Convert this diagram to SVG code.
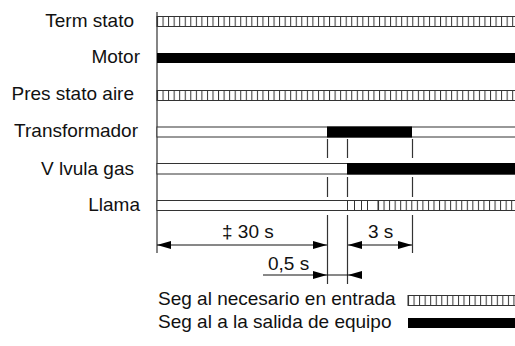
<svg xmlns="http://www.w3.org/2000/svg" width="515" height="346" viewBox="0 0 515 346">
<style>
text{font-family:"Liberation Sans",Arial,sans-serif;font-size:19px;fill:#111}
.lbl{text-anchor:end}
.open{fill:#fff;stroke:#333;stroke-width:1}
.hat{stroke:#333;stroke-width:1}
.on{fill:#000}
.ln{stroke:#333;stroke-width:1.2;fill:none}
.dim{stroke:#111;stroke-width:1;fill:none}
</style>
<defs>
<pattern id="hatch" patternUnits="userSpaceOnUse" x="157" y="0" width="5.55" height="20">
<rect x="0" y="0" width="5.55" height="20" fill="#fff"/>
<line x1="0.5" y1="0" x2="0.5" y2="20" stroke="#333" stroke-width="1"/>
</pattern>
<pattern id="hatch2" patternUnits="userSpaceOnUse" x="378" y="0" width="5.55" height="20">
<rect x="0" y="0" width="5.55" height="20" fill="#fff"/>
<line x1="0.5" y1="0" x2="0.5" y2="20" stroke="#333" stroke-width="1"/>
</pattern>
<pattern id="hatch3" patternUnits="userSpaceOnUse" x="408" y="0" width="5.55" height="20">
<rect x="0" y="0" width="5.55" height="20" fill="#fff"/>
<line x1="0.5" y1="0" x2="0.5" y2="20" stroke="#333" stroke-width="1"/>
</pattern>
<marker id="ah" viewBox="0 0 14 8" refX="14" refY="4" markerWidth="14" markerHeight="8" markerUnits="userSpaceOnUse" orient="auto-start-reverse">
<path d="M0,0 L14,4 L0,8 Z" fill="#000"/>
</marker>
</defs>

<g id="axis">
<line class="ln" x1="157" y1="12" x2="157" y2="253"/>
</g>

<g id="termostato">
<text class="lbl" x="134" y="27">Term stato</text>
<rect x="157" y="16.5" width="360" height="10" fill="url(#hatch)" stroke="#333" stroke-width="1"/>
</g>

<g id="motor">
<text class="lbl" x="140" y="63">Motor</text>
<rect class="on" x="157" y="53" width="358" height="10"/>
</g>

<g id="presostato">
<text class="lbl" x="134" y="100">Pres stato aire</text>
<rect x="157" y="90.5" width="360" height="10" fill="url(#hatch)" stroke="#333" stroke-width="1"/>
</g>

<g id="transformador">
<text class="lbl" x="138" y="137">Transformador</text>
<rect class="open" x="157" y="127" width="360" height="10"/>
<rect class="on" x="327" y="126.5" width="85" height="11"/>
</g>

<g id="valvula">
<text class="lbl" x="134" y="175">V lvula gas</text>
<rect class="open" x="157" y="163.5" width="360" height="10.5"/>
<rect class="on" x="347" y="163" width="168" height="11.5"/>
</g>

<g id="llama">
<text class="lbl" x="140" y="211">Llama</text>
<rect class="open" x="157" y="200.5" width="360" height="10"/>
<rect x="378" y="200.5" width="139" height="10" fill="url(#hatch2)" stroke="#333" stroke-width="1"/>
<g class="hat">
<line x1="347.5" y1="200.5" x2="347.5" y2="210.5"/>
<line x1="354.5" y1="200.5" x2="354.5" y2="210.5"/>
<line x1="361.5" y1="200.5" x2="361.5" y2="210.5"/>
<line x1="367.5" y1="200.5" x2="367.5" y2="210.5"/>
</g>
</g>

<g id="connectors">
<g class="ln">
<line x1="327.5" y1="139" x2="327.5" y2="158"/>
<line x1="347.5" y1="139" x2="347.5" y2="158"/>
<line x1="412.5" y1="139" x2="412.5" y2="158"/>
<line x1="327.5" y1="177" x2="327.5" y2="197"/>
<line x1="347.5" y1="177" x2="347.5" y2="197"/>
<line x1="412.5" y1="177" x2="412.5" y2="197"/>
<line x1="327.5" y1="215" x2="327.5" y2="284"/>
<line x1="347.5" y1="215" x2="347.5" y2="284"/>
<line x1="412.5" y1="215" x2="412.5" y2="253"/>
</g>
<line class="dim" x1="157" y1="245" x2="327" y2="245" marker-start="url(#ah)" marker-end="url(#ah)"/>
<line class="dim" x1="348" y1="245" x2="412" y2="245" marker-start="url(#ah)" marker-end="url(#ah)"/>
<line class="dim" x1="263" y1="275" x2="327" y2="275" marker-end="url(#ah)"/>
<line class="dim" x1="327" y1="275" x2="348" y2="275"/>
<line class="dim" x1="362" y1="275" x2="348" y2="275" marker-end="url(#ah)"/>
</g>

<g id="dim-labels">
<text x="222" y="238">‡ 30 s</text>
<text x="368" y="238">3 s</text>
<text x="268" y="270">0,5 s</text>
</g>

<g id="legend">
<text x="158" y="305">Seg al necesario en entrada</text>
<rect x="408" y="295.5" width="109" height="10" fill="url(#hatch3)" stroke="#333" stroke-width="1"/>
<text x="158" y="328">Seg al a la salida de equipo</text>
<rect class="on" x="408" y="318" width="107" height="10"/>
</g>
</svg>
